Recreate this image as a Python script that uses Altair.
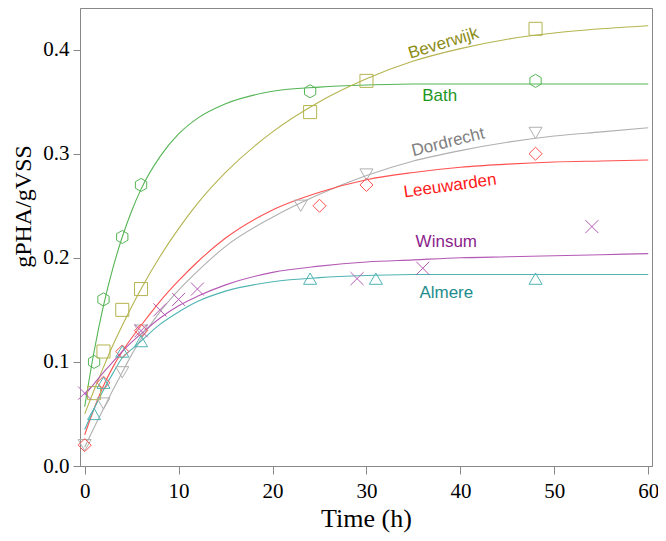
import altair as alt
import pandas as pd

sites = ["Bath", "Beverwijk", "Dordrecht", "Leeuwarden", "Winsum", "Almere"]
line_colors = ["#55b555", "#b4b450", "#b0b0b0", "#ff5050", "#b45ab4", "#50b4b4"]
label_colors = ["#1e961e", "#8c8c14", "#808080", "#ff1a1a", "#8c1e8c", "#1e8c8c"]
hexagon = "M0,-1L0.866,-0.5L0.866,0.5L0,1L-0.866,0.5L-0.866,-0.5Z"
xmark = "M-1,-1L1,1M1,-1L-1,1"
shapes = [hexagon, "square", "triangle-down", "diamond", xmark, "triangle-up"]

# measured points (time in h, gPHA/gVSS)
bath_t = [1, 2, 4, 6, 24, 48]
bath_v = [0.10, 0.16, 0.22, 0.27, 0.36, 0.37]
bev_t = [1, 2, 4, 6, 24, 30, 48]
bev_v = [0.07, 0.11, 0.15, 0.17, 0.34, 0.37, 0.42]
dor_t = [0, 2, 4, 6, 23, 30, 48]
dor_v = [0.02, 0.06, 0.09, 0.13, 0.25, 0.28, 0.32]
lee_t = [0, 2, 4, 6, 25, 30, 48]
lee_v = [0.02, 0.08, 0.11, 0.13, 0.25, 0.27, 0.30]
win_t = [0, 6, 8, 10, 12, 29, 36, 54]
win_v = [0.07, 0.13, 0.15, 0.16, 0.17, 0.18, 0.19, 0.23]
alm_t = [1, 2, 4, 6, 24, 31, 48]
alm_v = [0.05, 0.08, 0.11, 0.12, 0.18, 0.18, 0.18]

# fitted curves
fit_t = [0, 1, 2, 3, 4, 5, 6, 8, 10, 12, 15, 20, 25, 30, 35, 40, 45, 50, 55, 60]
bath_fit = [0.057, 0.110, 0.154, 0.190, 0.220, 0.245, 0.266, 0.297, 0.319, 0.334,
            0.348, 0.360, 0.364, 0.366, 0.367, 0.367, 0.367, 0.367, 0.367, 0.367]
bev_fit = [0.050, 0.073, 0.095, 0.116, 0.135, 0.153, 0.170, 0.201, 0.228, 0.252,
           0.282, 0.321, 0.350, 0.372, 0.389, 0.401, 0.410, 0.416, 0.420, 0.423]
dor_fit = [0.018, 0.037, 0.055, 0.073, 0.090, 0.107, 0.122, 0.148, 0.169, 0.187,
           0.211, 0.239, 0.261, 0.279, 0.293, 0.303, 0.311, 0.317, 0.321, 0.325]
lee_fit = [0.030, 0.055, 0.077, 0.095, 0.110, 0.123, 0.135, 0.158, 0.178, 0.196,
           0.219, 0.246, 0.263, 0.275, 0.282, 0.287, 0.290, 0.292, 0.293, 0.294]
win_fit = [0.068, 0.079, 0.090, 0.100, 0.110, 0.119, 0.127, 0.142, 0.154, 0.163,
           0.174, 0.186, 0.192, 0.196, 0.198, 0.200, 0.201, 0.202, 0.203, 0.204]
alm_fit = [0.035, 0.055, 0.073, 0.089, 0.104, 0.112, 0.120, 0.136, 0.148, 0.158,
           0.168, 0.177, 0.181, 0.183, 0.184, 0.184, 0.184, 0.184, 0.184, 0.184]

# curve labels
label_t = [37.8, 38.2, 38.7, 38.9, 38.5, 38.5]
label_v = [0.355, 0.406, 0.311, 0.269, 0.215, 0.166]
label_angle = [0, 343, 346, 352, 0, 0]

meas = [(bath_t, bath_v), (bev_t, bev_v), (dor_t, dor_v),
        (lee_t, lee_v), (win_t, win_v), (alm_t, alm_v)]
fits = [bath_fit, bev_fit, dor_fit, lee_fit, win_fit, alm_fit]

points = pd.DataFrame(
    [{"site": s, "t": t, "v": v} for s, (ts, vs) in zip(sites, meas) for t, v in zip(ts, vs)]
)
curves = pd.DataFrame(
    [{"site": s, "t": t, "v": v} for s, vs in zip(sites, fits) for t, v in zip(fit_t, vs)]
)
labels = pd.DataFrame(
    {"site": sites, "t": label_t, "v": label_v, "angle": label_angle, "col": label_colors}
)

x = alt.X(
    "t:Q",
    scale=alt.Scale(domain=[-0.5, 60.4], nice=False, zero=False),
    axis=alt.Axis(
        values=[0, 10, 20, 30, 40, 50, 60],
        title="Time (h)",
        titleFontSize=26,
        titleBaseline="alphabetic",
        titleY=60,
        labelPadding=6,
        tickSize=8,
    ),
)
y = alt.Y(
    "v:Q",
    scale=alt.Scale(domain=[0, 0.44], nice=False),
    axis=alt.Axis(
        values=[0, 0.1, 0.2, 0.3, 0.4],
        format=".1f",
        title="gPHA/gVSS",
        titleFontSize=24,
        titleAngle=270,
        titleBaseline="alphabetic",
        titleX=-50,
        titleY=198,
        labelPadding=4,
        tickSize=7,
    ),
)
color = alt.Color("site:N", scale=alt.Scale(domain=sites, range=line_colors), legend=None)

lines = alt.Chart(curves).mark_line(strokeWidth=1.1, interpolate="monotone").encode(
    x=x, y=y, color=color
)
marks = alt.Chart(points).mark_point(filled=False, size=170, strokeWidth=1, opacity=1).encode(
    x=x,
    y=y,
    color=color,
    shape=alt.Shape("site:N", scale=alt.Scale(domain=sites, range=shapes), legend=None),
)
texts = alt.Chart(labels).mark_text(
    font="Liberation Sans", fontSize=17, align="center", baseline="middle"
).encode(
    x=x,
    y=y,
    text="site:N",
    angle=alt.Angle("angle:Q", scale=None),
    color=alt.Color("col:N", scale=None),
)

chart = (
    alt.layer(lines, marks, texts)
    .properties(
        width=572,
        height=458,
        autosize=alt.AutoSizeParams(type="none"),
        padding={"left": 72, "top": 0, "right": 6, "bottom": 67},
    )
    .configure_view(stroke="#888888", strokeWidth=1)
    .configure_axis(
        grid=False,
        domainColor="#888888",
        tickColor="#888888",
        labelFont="Liberation Serif",
        labelFontSize=21,
        labelColor="black",
        titleFont="Liberation Serif",
        titleFontWeight="normal",
        titleColor="black",
    )
)

chart.save("out.html", embed_options={"renderer": "svg", "actions": False})
